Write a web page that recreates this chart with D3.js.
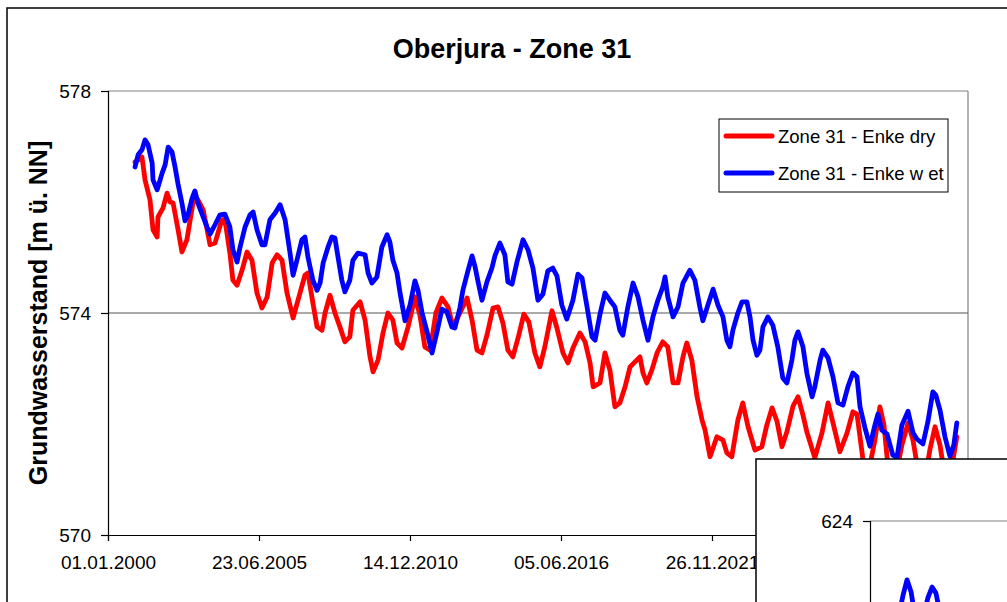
<!DOCTYPE html>
<html><head><meta charset="utf-8">
<script src="https://cdn.jsdelivr.net/npm/d3@7"></script>
<style>body{margin:0;background:#fff;overflow:hidden}svg{display:block;font-family:"Liberation Sans",Arial,sans-serif}</style>
</head><body>
<script>
const title = "Oberjura - Zone 31";
const yLabel = "Grundwasserstand [m ü. NN]";
const seriesNames = ["Zone 31 - Enke dry", "Zone 31 - Enke w et"];
const seriesColors = ["#ff0000", "#0000ff"];
const yTicks = [570, 574, 578];
const xTickLabels = ["01.01.2000","23.06.2005","14.12.2010","05.06.2016","26.11.2021","19.05.2027"];
const xEnd = "10.03.2031";
const insetTick = 624;

// [decimal year, level]
const dry = [[2000.98,576.72],[2001.23,576.81],[2001.34,576.40],[2001.52,576.04],[2001.63,575.50],[2001.78,575.37],[2001.81,575.73],[2001.99,575.89],[2002.14,576.16],[2002.25,576.00],[2002.36,575.98],[2002.54,575.50],[2002.68,575.10],[2002.86,575.32],[2003.08,575.98],[2003.26,576.04],[2003.45,575.86],[2003.70,575.23],[2003.88,575.26],[2004.13,575.68],[2004.24,575.68],[2004.42,575.08],[2004.53,574.59],[2004.68,574.50],[2004.86,574.77],[2005.04,575.10],[2005.22,574.95],[2005.40,574.36],[2005.58,574.09],[2005.77,574.29],[2005.95,574.90],[2006.13,575.05],[2006.31,574.95],[2006.49,574.36],[2006.71,573.91],[2006.96,574.36],[2007.14,574.68],[2007.25,574.72],[2007.43,574.18],[2007.58,573.75],[2007.76,573.69],[2007.87,574.00],[2008.05,574.32],[2008.23,574.00],[2008.41,573.75],[2008.59,573.48],[2008.77,573.57],[2008.88,574.05],[2009.14,574.20],[2009.32,573.87],[2009.50,573.21],[2009.61,572.94],[2009.79,573.15],[2009.97,573.64],[2010.15,574.00],[2010.33,573.87],[2010.48,573.46],[2010.66,573.37],[2010.88,573.75],[2011.13,574.29],[2011.31,573.96],[2011.49,573.39],[2011.68,573.33],[2011.89,574.00],[2012.11,574.27],[2012.33,574.11],[2012.51,573.75],[2012.76,574.00],[2013.02,574.27],[2013.20,573.87],[2013.38,573.33],[2013.56,573.28],[2013.74,573.60],[2013.96,574.09],[2014.14,574.11],[2014.32,573.82],[2014.50,573.33],[2014.68,573.21],[2014.87,573.55],[2015.08,573.98],[2015.26,573.84],[2015.48,573.28],[2015.66,573.03],[2015.84,573.39],[2016.10,574.04],[2016.28,573.73],[2016.50,573.28],[2016.68,573.10],[2016.86,573.37],[2017.11,573.64],[2017.30,573.48],[2017.48,573.10],[2017.59,572.67],[2017.84,572.74],[2018.02,573.28],[2018.20,572.97],[2018.38,572.31],[2018.56,572.38],[2018.75,572.67],[2018.93,573.03],[2019.11,573.12],[2019.29,573.21],[2019.40,572.92],[2019.54,572.74],[2019.72,572.97],[2019.91,573.28],[2020.12,573.48],[2020.30,573.39],[2020.49,572.74],[2020.67,572.74],[2020.85,573.21],[2020.99,573.46],[2021.17,573.15],[2021.36,572.49],[2021.54,572.07],[2021.65,571.89],[2021.83,571.41],[2022.08,571.77],[2022.30,571.71],[2022.44,571.48],[2022.62,571.41],[2022.84,572.07],[2023.02,572.38],[2023.21,571.95],[2023.46,571.53],[2023.71,571.59],[2023.89,571.98],[2024.08,572.29],[2024.26,572.05],[2024.44,571.59],[2024.62,571.86],[2024.84,572.32],[2025.02,572.49],[2025.20,572.16],[2025.34,571.86],[2025.63,571.39],[2025.89,571.84],[2026.11,572.38],[2026.29,572.02],[2026.54,571.50],[2026.80,571.84],[2027.01,572.22],[2027.16,572.18],[2027.37,571.39],[2027.56,571.08],[2027.81,571.71],[2027.99,572.31],[2028.14,571.98],[2028.28,571.26],[2028.54,570.99],[2028.79,571.62],[2029.01,572.02],[2029.19,571.71],[2029.37,571.17],[2029.62,570.99],[2029.80,571.53],[2029.99,571.95],[2030.17,571.62],[2030.31,571.17],[2030.53,571.03],[2030.67,571.44],[2030.78,571.77]];

const wet = [[2000.98,576.63],[2001.09,576.85],[2001.23,576.94],[2001.34,577.12],[2001.45,577.03],[2001.60,576.70],[2001.63,576.40],[2001.78,576.22],[2001.89,576.40],[2001.96,576.52],[2002.07,576.67],[2002.18,576.99],[2002.32,576.90],[2002.43,576.63],[2002.54,576.32],[2002.68,575.98],[2002.79,575.66],[2002.90,575.77],[2003.05,576.07],[2003.15,576.20],[2003.26,575.98],[2003.45,575.73],[2003.59,575.55],[2003.70,575.42],[2003.88,575.59],[2004.06,575.77],[2004.24,575.78],[2004.42,575.55],[2004.53,575.14],[2004.68,574.92],[2004.79,575.19],[2004.97,575.55],[2005.15,575.77],[2005.26,575.82],[2005.40,575.50],[2005.58,575.23],[2005.69,575.23],[2005.87,575.68],[2006.06,575.80],[2006.24,575.95],[2006.42,575.68],[2006.60,575.08],[2006.71,574.68],[2006.85,574.95],[2007.03,575.32],[2007.14,575.37],[2007.25,575.01],[2007.43,574.59],[2007.58,574.41],[2007.69,574.54],[2007.80,574.90],[2007.98,575.19],[2008.12,575.37],[2008.23,575.35],[2008.34,575.01],[2008.48,574.59],[2008.59,574.38],[2008.77,574.59],[2008.88,574.95],[2009.06,575.08],[2009.32,575.05],[2009.43,574.72],[2009.57,574.54],[2009.75,574.65],[2009.93,575.19],[2010.12,575.41],[2010.22,575.28],[2010.33,574.95],[2010.48,574.72],[2010.59,574.36],[2010.77,573.86],[2010.95,574.14],[2011.13,574.58],[2011.24,574.41],[2011.39,574.00],[2011.57,573.66],[2011.75,573.28],[2011.93,573.66],[2012.11,574.07],[2012.29,574.02],[2012.47,573.75],[2012.58,573.73],[2012.76,574.09],[2012.87,574.41],[2013.05,574.76],[2013.20,575.03],[2013.31,574.83],[2013.42,574.56],[2013.56,574.23],[2013.74,574.56],[2013.92,574.81],[2014.03,575.03],[2014.21,575.26],[2014.39,575.05],[2014.50,574.56],[2014.65,574.52],[2014.83,574.92],[2015.05,575.32],[2015.23,575.14],[2015.41,574.81],[2015.59,574.23],[2015.77,574.34],[2015.95,574.76],[2016.13,574.81],[2016.28,574.67],[2016.46,574.14],[2016.64,573.89],[2016.86,574.23],[2017.04,574.70],[2017.19,574.63],[2017.37,574.11],[2017.55,573.57],[2017.66,573.51],[2017.84,573.98],[2018.02,574.36],[2018.20,574.23],[2018.38,574.11],[2018.56,573.69],[2018.67,573.60],[2018.85,574.11],[2019.04,574.54],[2019.22,574.29],[2019.40,573.87],[2019.58,573.51],[2019.76,573.93],[2019.94,574.23],[2020.12,574.47],[2020.20,574.65],[2020.30,574.29],[2020.49,573.93],[2020.67,574.11],[2020.85,574.54],[2021.10,574.77],[2021.28,574.59],[2021.46,574.11],[2021.57,573.86],[2021.75,574.14],[2021.94,574.43],[2022.12,574.14],[2022.30,573.93],[2022.44,573.51],[2022.55,573.39],[2022.66,573.69],[2022.84,574.00],[2022.99,574.20],[2023.17,574.20],[2023.28,573.93],[2023.39,573.51],[2023.53,573.24],[2023.64,573.33],[2023.75,573.75],[2023.93,573.93],[2024.11,573.78],[2024.29,573.39],[2024.47,572.83],[2024.62,572.74],[2024.80,573.15],[2024.91,573.51],[2025.02,573.66],[2025.20,573.39],[2025.34,572.92],[2025.53,572.49],[2025.63,572.67],[2025.82,573.15],[2025.92,573.33],[2026.11,573.19],[2026.29,572.85],[2026.47,572.38],[2026.65,572.34],[2026.83,572.67],[2027.01,572.92],[2027.16,572.85],[2027.27,572.31],[2027.45,571.93],[2027.63,571.60],[2027.81,571.98],[2027.92,572.18],[2028.06,571.89],[2028.25,571.82],[2028.46,571.44],[2028.61,571.39],[2028.79,571.98],[2029.01,572.23],[2029.19,571.84],[2029.33,571.73],[2029.55,571.64],[2029.73,572.04],[2029.91,572.58],[2030.02,572.52],[2030.17,572.25],[2030.35,571.77],[2030.53,571.42],[2030.67,571.62],[2030.78,572.02]];

// overlapping second chart (only its top-left corner is visible)
const insetWet = [[2001.00,622.20],[2001.20,622.67],[2001.34,622.94],[2001.49,622.72],[2001.65,622.20],[2001.90,622.20],[2002.10,622.62],[2002.25,622.81],[2002.39,622.70],[2002.60,622.20]];

const W = 1007, H = 602;
const M = {left:108, top:91, right:968, bottom:535};
const FONT = "Liberation Sans, Arial, sans-serif";

const parseDMY = s => { const [d,m,y] = s.split(".").map(Number); return new Date(Date.UTC(y,m-1,d)); };
const fromDecYear = v => { const y = Math.floor(v); return new Date(Date.UTC(y,0,1) + (v-y)*365.25*864e5); };

const svg = d3.select("body").append("svg").attr("width",W).attr("height",H);

// outer chart frame
svg.append("rect").attr("x",7).attr("y",8).attr("width",W+20).attr("height",H+20)
  .attr("fill","#fff").attr("stroke","#000").attr("stroke-width",1.5);

const x = d3.scaleUtc().domain([parseDMY(xTickLabels[0]), parseDMY(xEnd)]).range([M.left, M.right]);
const y = d3.scaleLinear().domain([570,578]).range([M.bottom, M.top]);

// plot frame (grey) and gridline
svg.append("line").attr("x1",M.left).attr("x2",M.right).attr("y1",M.top).attr("y2",M.top).attr("stroke","#808080").attr("stroke-width",1.2);
svg.append("line").attr("x1",M.right).attr("x2",M.right).attr("y1",M.top).attr("y2",M.bottom).attr("stroke","#808080").attr("stroke-width",1.2);
svg.append("g").selectAll("line").data(yTicks.filter(t=>t>570 && t<578)).join("line")
  .attr("x1",M.left).attr("x2",M.right).attr("y1",d=>y(d)).attr("y2",d=>y(d))
  .attr("stroke","#555").attr("stroke-width",1.2);

// axes
const yAxis = d3.axisLeft(y).tickValues(yTicks).tickSize(7).tickPadding(10).tickFormat(d3.format("d"));
const gy = svg.append("g").attr("transform",`translate(${M.left},0)`).call(yAxis);
const xAxis = d3.axisBottom(x).tickValues(xTickLabels.map(parseDMY)).tickSize(6).tickPadding(15)
  .tickFormat((d,i)=>xTickLabels[i]);
const gx = svg.append("g").attr("transform",`translate(0,${M.bottom})`).call(xAxis);
[gx,gy].forEach(g=>{
  g.select(".domain").attr("stroke","#000").attr("stroke-width",1.2);
  g.selectAll(".tick line").attr("stroke","#000").attr("stroke-width",1.2);
  g.selectAll("text").attr("font-size",19).attr("fill","#000").attr("font-family",FONT);
});

// lines
const line = d3.line().x(d=>x(fromDecYear(d[0]))).y(d=>y(d[1])).curve(d3.curveLinear);
[dry, wet].forEach((s,i)=>{
  svg.append("path").datum(s).attr("d",line).attr("fill","none")
    .attr("stroke",seriesColors[i]).attr("stroke-width",4.8).attr("stroke-linejoin","round").attr("stroke-linecap","round");
});

// title & y label
svg.append("text").attr("x",512).attr("y",58).attr("text-anchor","middle")
  .attr("font-size",27).attr("font-weight","bold").text(title);
svg.append("text").attr("transform","translate(47,313) rotate(-90)").attr("text-anchor","middle")
  .attr("font-size",25).attr("font-weight","bold").text(yLabel);

// legend
const lg = svg.append("g");
lg.append("rect").attr("x",719).attr("y",119).attr("width",229).attr("height",73)
  .attr("fill","#fff").attr("stroke","#000").attr("stroke-width",1);
seriesNames.forEach((n,i)=>{
  const ly = 136 + i*37;
  lg.append("line").attr("x1",726).attr("x2",772).attr("y1",ly).attr("y2",ly)
    .attr("stroke",seriesColors[i]).attr("stroke-width",5).attr("stroke-linecap","round");
  lg.append("text").attr("x",778).attr("y",ly+7).attr("font-size",18.5).text(n);
});

// overlapping second chart
const ig = svg.append("g");
ig.append("rect").attr("x",756).attr("y",459).attr("width",300).attr("height",200)
  .attr("fill","#fff").attr("stroke","#000").attr("stroke-width",1.5);
const xi = d3.scaleUtc().domain(x.domain()).range([870, 870 + (M.right-M.left)]);
const yi = d3.scaleLinear().domain([insetTick-8, insetTick]).range([521+444, 521]);
ig.append("line").attr("x1",870).attr("x2",W+5).attr("y1",yi(insetTick)).attr("y2",yi(insetTick)).attr("stroke","#808080").attr("stroke-width",1.2);
const giy = ig.append("g").attr("transform","translate(870,0)")
  .call(d3.axisLeft(yi).tickValues([insetTick]).tickSize(7).tickPadding(10));
giy.select(".domain").attr("stroke","#000").attr("stroke-width",1.2);
giy.selectAll(".tick line").attr("stroke","#000").attr("stroke-width",1.2);
giy.selectAll("text").attr("font-size",19).attr("fill","#000").attr("font-family",FONT);
const iline = d3.line().x(d=>xi(fromDecYear(d[0]))).y(d=>yi(d[1]));
ig.append("path").datum(insetWet).attr("d",iline).attr("fill","none")
  .attr("stroke",seriesColors[1]).attr("stroke-width",4.8).attr("stroke-linejoin","round");
</script>
</body></html>
